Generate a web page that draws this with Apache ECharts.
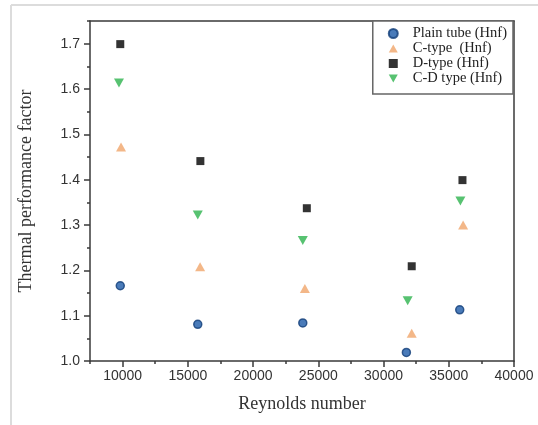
<!DOCTYPE html>
<html>
<head>
<meta charset="utf-8">
<script src="https://cdn.jsdelivr.net/npm/echarts@6/dist/echarts.min.js"></script>
<style>
  html, body { margin: 0; padding: 0; background: #fff; }
  #chart { width: 538px; height: 425px; }
</style>
</head>
<body>
<div id="chart"></div>
<script>
// Thermal performance factor vs Reynolds number for four tube configurations
const seriesNames = ['Plain tube (Hnf)', 'C-type  (Hnf)', 'D-type (Hnf)', 'C-D type (Hnf)'];

const plainRe = [9820, 15760, 23810, 31750, 35840];
const plainTpf = [1.166, 1.081, 1.084, 1.019, 1.113];

const cTypeRe = [9880, 15940, 23970, 32160, 36100];
const cTypeTpf = [1.472, 1.208, 1.160, 1.061, 1.300];

const dTypeRe = [9820, 15960, 24120, 32160, 36050];
const dTypeTpf = [1.699, 1.441, 1.337, 1.209, 1.399];

const cdTypeRe = [9720, 15760, 23810, 31850, 35890];
const cdTypeTpf = [1.613, 1.322, 1.266, 1.133, 1.353];

const xMajorTicks = [10000, 15000, 20000, 25000, 30000, 35000, 40000];
const xMinorTicks = [7500, 12500, 17500, 22500, 27500, 32500, 37500];
const yMajorTicks = [1.0, 1.1, 1.2, 1.3, 1.4, 1.5, 1.6, 1.7];
const yMinorTicks = [1.05, 1.15, 1.25, 1.35, 1.45, 1.55, 1.65, 1.75];

const xMin = 7500, xMax = 40000, yMin = 1.0, yMax = 1.75;

function pairs(xs, ys) { return xs.map((x, i) => [x, ys[i]]); }

// Triangle markers pointing up and down
const downTriangle = 'path://M0,0 L10,0 L5,9 Z';
const upTriangle = 'path://M5,0 L10,9 L0,9 Z';

const axisColor = '#3a3a3a';
const tickFont = { fontFamily: 'Liberation Sans, Arial, sans-serif', fontSize: 14, color: '#333' };
const titleFont = { fontFamily: 'Liberation Serif, Times New Roman, serif', fontSize: 18, color: '#333' };

const chart = echarts.init(document.getElementById('chart'), null, { renderer: 'canvas' });

const colors = {
  plain: '#1d5aa8', plainBorder: '#123d78',
  cType: '#f0a56a', dType: '#000000', cdType: '#2db34e'
};

const option = {
  backgroundColor: '#fff',
  animation: false,
  grid: { left: 90, top: 21, right: 24, bottom: 64, containLabel: false },
  graphic: [
    { type: 'line', shape: { x1: 11, y1: 5, x2: 538, y2: 5 }, style: { stroke: '#dcdcdc', lineWidth: 2 }, z: 0 },
    { type: 'line', shape: { x1: 11, y1: 5, x2: 11, y2: 425 }, style: { stroke: '#dcdcdc', lineWidth: 2 }, z: 0 }
  ],
  legend: {
    orient: 'vertical',
    right: 25,
    top: 21,
    data: [
      { name: seriesNames[0], icon: 'circle' },
      { name: seriesNames[1], icon: upTriangle },
      { name: seriesNames[2], icon: 'rect' },
      { name: seriesNames[3], icon: downTriangle }
    ],
    backgroundColor: '#fff',
    borderColor: '#666',
    borderWidth: 1.5,
    padding: [5, 6, 8, 15],
    itemGap: 0,
    itemWidth: 9,
    itemHeight: 9,
    textStyle: {
      fontFamily: 'Liberation Serif, Times New Roman, serif', fontSize: 14.5, lineHeight: 15,
      color: '#222', padding: [0, 0, 0, 10]
    }
  },
  xAxis: [
    {
      type: 'value', min: xMin, max: xMax, position: 'bottom',
      name: 'Reynolds number', nameLocation: 'middle', nameGap: 34, nameTextStyle: titleFont,
      axisLine: { show: true, onZero: false, lineStyle: { color: axisColor, width: 1.5 } },
      axisTick: { show: true, inside: false, length: 6, customValues: xMajorTicks, lineStyle: { color: axisColor, width: 1.5 } },
      axisLabel: Object.assign({ show: true, margin: 8, customValues: xMajorTicks, formatter: v => String(v) }, tickFont),
      splitLine: { show: false }
    },
    {
      type: 'value', min: xMin, max: xMax, position: 'bottom', gridIndex: 0,
      axisLine: { show: false, onZero: false },
      axisTick: { show: true, inside: false, length: 3, customValues: xMinorTicks, lineStyle: { color: axisColor, width: 1.5 } },
      axisLabel: { show: false },
      splitLine: { show: false }
    },
    {
      type: 'value', min: xMin, max: xMax, position: 'top', gridIndex: 0,
      axisLine: { show: true, onZero: false, lineStyle: { color: axisColor, width: 1.5 } },
      axisTick: { show: false }, axisLabel: { show: false }, splitLine: { show: false }
    }
  ],
  yAxis: [
    {
      type: 'value', min: yMin, max: yMax, position: 'left',
      name: 'Thermal performance factor', nameLocation: 'middle', nameGap: 55, nameRotate: 90, nameTextStyle: titleFont,
      axisLine: { show: true, onZero: false, lineStyle: { color: axisColor, width: 1.5 } },
      axisTick: { show: true, inside: false, length: 6, customValues: yMajorTicks, lineStyle: { color: axisColor, width: 1.5 } },
      axisLabel: Object.assign({ show: true, margin: 10, customValues: yMajorTicks, formatter: v => v.toFixed(1) }, tickFont),
      splitLine: { show: false }
    },
    {
      type: 'value', min: yMin, max: yMax, position: 'left', gridIndex: 0,
      axisLine: { show: false, onZero: false },
      axisTick: { show: true, inside: false, length: 3, customValues: yMinorTicks, lineStyle: { color: axisColor, width: 1.5 } },
      axisLabel: { show: false },
      splitLine: { show: false }
    },
    {
      type: 'value', min: yMin, max: yMax, position: 'right', gridIndex: 0,
      axisLine: { show: true, onZero: false, lineStyle: { color: axisColor, width: 1.5 } },
      axisTick: { show: false }, axisLabel: { show: false }, splitLine: { show: false }
    }
  ],
  series: [
    {
      name: seriesNames[0], type: 'scatter', data: pairs(plainRe, plainTpf),
      symbol: 'circle', symbolSize: 8,
      itemStyle: { color: colors.plain, borderColor: colors.plainBorder, borderWidth: 1.5 }
    },
    {
      name: seriesNames[1], type: 'scatter', data: pairs(cTypeRe, cTypeTpf),
      symbol: upTriangle, symbolSize: [10, 9],
      itemStyle: { color: colors.cType }
    },
    {
      name: seriesNames[2], type: 'scatter', data: pairs(dTypeRe, dTypeTpf),
      symbol: 'rect', symbolSize: 8,
      itemStyle: { color: colors.dType }
    },
    {
      name: seriesNames[3], type: 'scatter', data: pairs(cdTypeRe, cdTypeTpf),
      symbol: downTriangle, symbolSize: [10, 9],
      itemStyle: { color: colors.cdType }
    }
  ]
};

chart.setOption(option);
</script>
</body>
</html>
